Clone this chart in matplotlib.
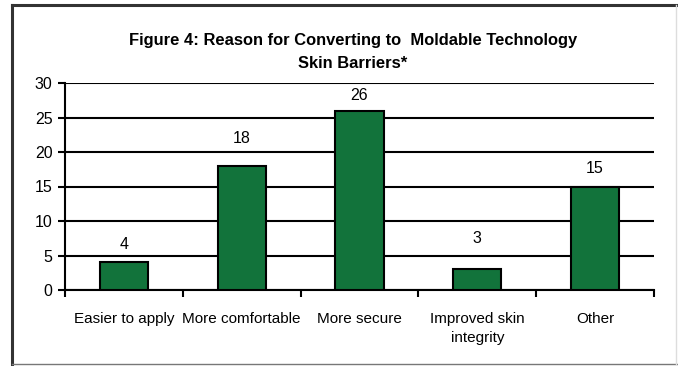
import matplotlib.pyplot as plt
from matplotlib.lines import Line2D

categories = ['Easier to apply', 'More comfortable', 'More secure',
              'Improved skin\nintegrity', 'Other']
counts = [4, 18, 26, 3, 15]
y_ticks = [0, 5, 10, 15, 20, 25, 30]
# distance (pixels) of each value label above its bar, as placed in the original
label_lift = [18, 27, 15, 31, 18]

plt.rcParams['font.family'] = ['Liberation Sans', 'DejaVu Sans']

fig = plt.figure(figsize=(6.78, 3.66), dpi=100)
W, H = 678, 366
ax = fig.add_axes([65 / W, 1 - 290 / H, (654 - 65) / W, (290 - 83) / H])

x = list(range(len(categories)))
ax.bar(x, counts, width=0.41, color='#12733b', edgecolor='black', linewidth=1.5, zorder=3)

# value labels above bars
for xi, v, lift in zip(x, counts, label_lift):
    ax.annotate(str(v), (xi, v), xytext=(0, lift), textcoords='offset pixels',
                ha='center', va='center', fontsize=11.5)

ax.set_xlim(-0.5, len(categories) - 0.5)
ax.set_ylim(0, 30)
ax.set_yticks(y_ticks)
ax.tick_params(axis='y', labelsize=11.5, length=5, width=1.5, direction='out', pad=4)
ax.yaxis.grid(True, color='black', linewidth=1.5, zorder=0)
ax.set_axisbelow(True)

# category boundaries as ticks, labels at centers
ax.set_xticks([i - 0.5 for i in range(len(categories) + 1)])
ax.set_xticklabels([])
ax.set_xticks(x, minor=True)
ax.set_xticklabels(categories, minor=True, fontsize=11)
plt.setp(ax.get_xticklabels(minor=True), linespacing=1.5)
ax.tick_params(axis='x', which='major', length=5, width=1.5, direction='out')
ax.tick_params(axis='x', which='minor', length=0, pad=15.5)

for s in ['top', 'right']:
    ax.spines[s].set_visible(False)
for s in ['left', 'bottom']:
    ax.spines[s].set_linewidth(1.5)

fig.text(353 / W, 1 - 40 / H, 'Figure 4: Reason for Converting to  Moldable Technology',
         ha='center', va='center', fontsize=11.9, fontweight='bold')
fig.text(353 / W, 1 - 63 / H, 'Skin Barriers*',
         ha='center', va='center', fontsize=11.9, fontweight='bold')

# outer frame
fig.add_artist(Line2D([12 / W, 12 / W], [1 - 5 / H, 1 - 364 / H], color='#333333', linewidth=2.2))
fig.add_artist(Line2D([12 / W, 1], [1 - 5 / H, 1 - 5 / H], color='#333333', linewidth=2.2))
fig.add_artist(Line2D([12 / W, 1], [1 - 364 / H, 1 - 364 / H], color='#777777', linewidth=1))
fig.add_artist(Line2D([676 / W, 676 / W], [1 - 5 / H, 1 - 364 / H], color='#dddddd', linewidth=1))

fig.savefig('out.png', dpi=100)
